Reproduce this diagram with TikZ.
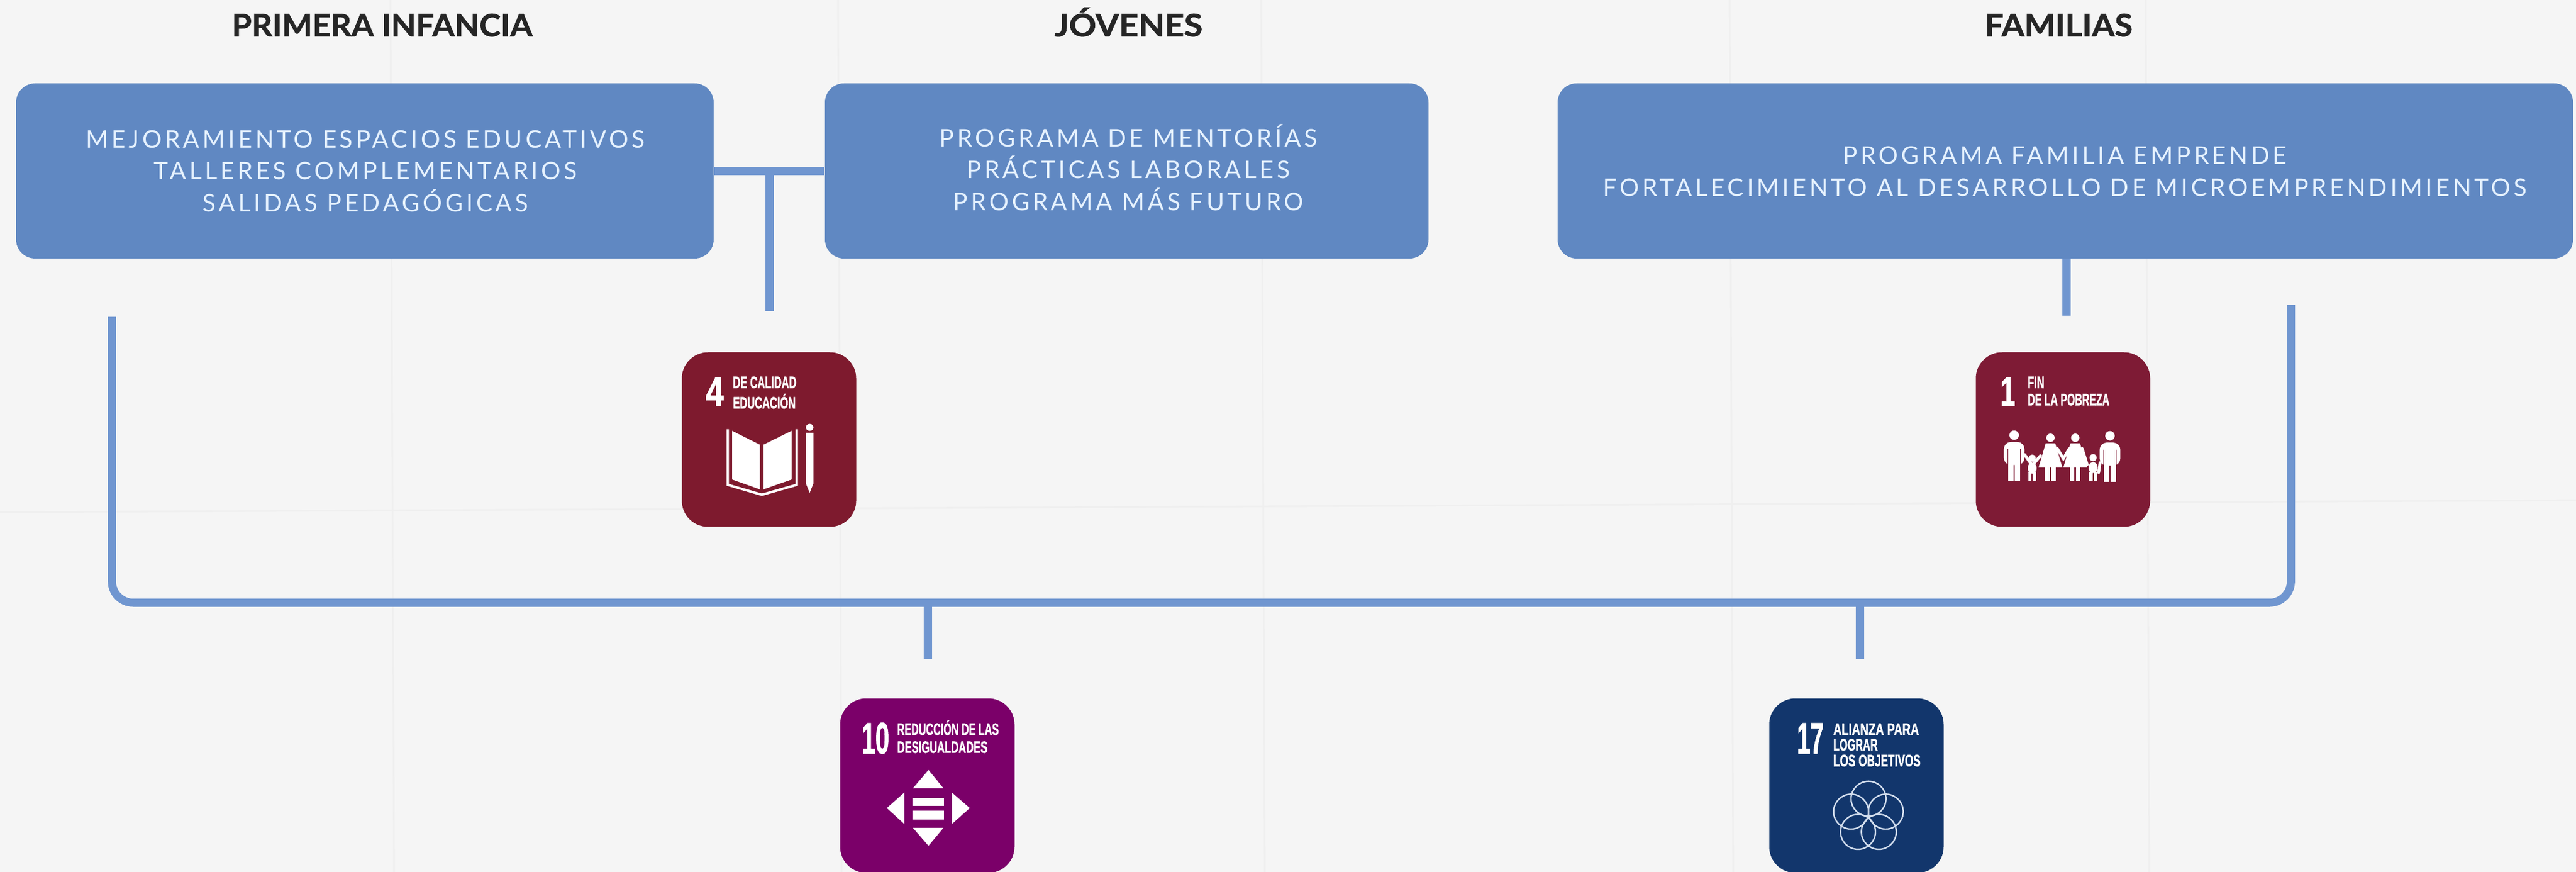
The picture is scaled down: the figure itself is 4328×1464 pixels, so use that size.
\documentclass[tikz,border=0pt]{standalone}
\usepackage{fontspec}
\usepackage{graphicx}
\setmainfont{Lato}
\newfontfamily\bodyfont[LetterSpace=12.8]{Lato}
\newfontfamily\headfont[BoldFeatures={FakeBold=1.2}]{Lato}
\newfontfamily\sdgfont[BoldFeatures={FakeBold=1.5}]{Liberation Sans}
\definecolor{paper}{HTML}{F5F5F5}
\definecolor{crease}{HTML}{EFEFEF}
\definecolor{boxblue}{HTML}{6088C2}
\definecolor{linkblue}{HTML}{7096D0}
\definecolor{headink}{HTML}{262626}
\definecolor{bodyink}{HTML}{E6F2FF}
\definecolor{sdgfour}{HTML}{7E1A2E}
\definecolor{sdgone}{HTML}{7E1B35}
\definecolor{sdgten}{HTML}{7B0069}
\definecolor{sdgseventeen}{HTML}{12366C}
\definecolor{ringink}{HTML}{D3DEEE}
\newlength\zu \setlength\zu{0.083333pt}
\newlength\pxu \setlength\pxu{0.25pt}
% name, x, baseline y, width (crop px), font size (pt), text
\newcommand\sdgtext[6]{\node[sdglabel] (#1) at (#2,#3) {\resizebox{#4\zu}{\height}{\fontsize{#5}{#5}\selectfont\bfseries #6}};}
% name, centre x, width (px), text
\newcommand\headtext[4]{\node[headlabel] (#1) at (#2,61) {\resizebox{#3\pxu}{\height}{\headfont\fontsize{13}{13}\selectfont\bfseries #4}};}
\newcommand\manfig[2]{%
  \fill[white] (#1,#2) circle (24);
  \fill[white,rounded corners=3pt] (#1-52,#2+34) rectangle (#1+52,#2+150);
  \fill[white] (#1-30,#2+140) rectangle (#1-3,#2+232);
  \fill[white] (#1+3,#2+140) rectangle (#1+30,#2+232);
  \fill[sdgone] (#1-33,#2+70) rectangle (#1-29,#2+150);
  \fill[sdgone] (#1+29,#2+70) rectangle (#1+33,#2+150);}
\newcommand\womanfig[2]{%
  \fill[white] (#1,#2) circle (21);
  \fill[white] (#1-24,#2+28) -- (#1+24,#2+28) -- (#1+60,#2+150) -- (#1-60,#2+150) -- cycle;
  \fill[white] (#1-26,#2+145) rectangle (#1-4,#2+220);
  \fill[white] (#1+4,#2+145) rectangle (#1+26,#2+220);}
\newcommand\childfig[2]{%
  \fill[white] (#1,#2) circle (18);
  \fill[white,rounded corners=2pt] (#1-22,#2+22) rectangle (#1+22,#2+78);
  \fill[white] (#1-20,#2+70) rectangle (#1-3,#2+117);
  \fill[white] (#1+3,#2+70) rectangle (#1+20,#2+117);}
\tikzset{
  bluebox/.style={rectangle,rounded corners=8pt,fill=boxblue,draw=none,minimum height=294\pxu},
  sdgicon/.style={rectangle,rounded corners=11pt,draw=none,minimum width=293\pxu,minimum height=293\pxu},
  headlabel/.style={anchor=base,inner sep=0pt,text=headink},
  bodylabel/.style={align=center,inner sep=0pt,text=bodyink,font=\bodyfont\fontsize{10.2}{13.4}\selectfont},
  sdglabel/.style={anchor=base west,inner sep=0pt,text=white,font=\sdgfont},
  linkline/.style={draw=linkblue,line width=3.4pt},
  paperline/.style={draw=crease,line width=0.7pt}
}
\begin{document}
\begin{tikzpicture}[x=0.25pt,y=-0.25pt]
\useasboundingbox (0,0) rectangle (4328,1464);
\clip (0,0) rectangle (4328,1464);
\fill[paper] (0,0) rectangle (4328,1464);
% paper creases
\foreach \cx in {656,1408,2119,2906,3605} \draw[paperline] (\cx,0) -- (\cx+6,1464);
\draw[paperline] (0,860) -- (4328,840);
% headings
\headtext{h1}{642}{505}{PRIMERA INFANCIA}
\headtext{h2}{1896}{249}{JÓVENES}
\headtext{h3}{3459}{248}{FAMILIAS}
% boxes
\node[bluebox,minimum width=1172\pxu] (b1) at (613,287) {};
\node[bluebox,minimum width=1014\pxu] (b2) at (1893,287) {};
\node[bluebox,minimum width=1706\pxu] (b3) at (3470,287) {};
\node[bodylabel] (t1) at (614,287) {MEJORAMIENTO ESPACIOS EDUCATIVOS\\TALLERES COMPLEMENTARIOS\\SALIDAS PEDAGÓGICAS};
\node[bodylabel] (t2) at (1896,281) {PROGRAMA DE MENTORÍAS\\PRÁCTICAS LABORALES\\PROGRAMA MÁS FUTURO};
\node[bodylabel] (t3) at (3469,288) {PROGRAMA FAMILIA EMPRENDE\\FORTALECIMIENTO AL DESARROLLO DE MICROEMPRENDIMIENTOS};
% icons
\node[sdgicon,fill=sdgfour] (i4) at (1292,738) {};
\node[sdgicon,fill=sdgone] (i1) at (3466,738) {};
\node[sdgicon,fill=sdgten] (i10) at (1558,1319) {};
\node[sdgicon,fill=sdgseventeen] (i17) at (3119,1319) {};
% connectors
\coordinate (j4) at (1293,287);
\coordinate (e4) at (1293,522);
\coordinate (s1) at (3472,434);
\coordinate (e1) at (3472,530);
\coordinate (lt) at (188,532);
\coordinate (lc) at (188,1012);
\coordinate (rc) at (3849,1012);
\coordinate (rt) at (3849,512);
\coordinate (s10) at (1559,1012);
\coordinate (e10) at (1559,1106);
\coordinate (s17) at (3125,1012);
\coordinate (e17) at (3125,1106);
\draw[linkline] (b1) -- (b2);
\draw[linkline] (j4) -- (e4);
\draw[linkline] (s1) -- (e1);
\draw[linkline,rounded corners=9pt] (lt) -- (lc) -- (rc) -- (rt);
\draw[linkline] (s10) -- (e10);
\draw[linkline] (s17) -- (e17);
% SDG 4
\begin{scope}[shift={(1100,560)},x=0.083333pt,y=-0.083333pt]
\sdgtext{n4}{255}{365}{90}{17.5}{4}
\sdgtext{a4}{392}{275}{320}{7}{DE CALIDAD}
\sdgtext{b4}{392}{378}{316}{7}{EDUCACIÓN}
\fill[white] (390,490) -- (530,560) -- (530,785) -- (390,735) -- cycle;
\fill[white] (548,560) -- (690,490) -- (690,735) -- (548,785) -- cycle;
\draw[white,line width=1pt] (368,482) -- (368,762) -- (540,812) -- (716,762) -- (716,482);
\fill[white,rounded corners=1.5pt] (762,455) rectangle (800,490);
\fill[white] (762,500) -- (800,500) -- (800,755) -- (781,802) -- (762,755) -- cycle;
\end{scope}
% SDG 1
\begin{scope}[shift={(3280,560)},x=0.083333pt,y=-0.083333pt]
\sdgtext{n1}{240}{365}{75}{17.5}{1}
\sdgtext{a1}{378}{275}{84}{7}{FIN}
\sdgtext{b1l}{378}{362}{412}{7}{DE LA POBREZA}
\manfig{312}{512}
\manfig{795}{515}
\womanfig{495}{525}
\womanfig{620}{525}
\childfig{403}{628}
\childfig{710}{625}
\draw[white,line width=1.2pt,line cap=round] (365,610) -- (403,665) -- (445,615);
\draw[white,line width=1.2pt,line cap=round] (530,580) -- (560,630) -- (590,580);
\draw[white,line width=1.2pt,line cap=round] (655,580) -- (680,660);
\draw[white,line width=1.2pt,line cap=round] (745,650) -- (738,700);
\end{scope}
% SDG 10
\begin{scope}[shift={(1380,1140)},x=0.083333pt,y=-0.083333pt]
\sdgtext{n10}{200}{375}{140}{18.5}{10}
\sdgtext{a10}{380}{282}{512}{7}{REDUCCIÓN DE LAS}
\sdgtext{b10}{380}{372}{455}{7}{DESIGUALDADES}
\fill[white] (540,458) -- (615,550) -- (462,550) -- cycle;
\fill[white] (462,750) -- (615,750) -- (540,840) -- cycle;
\fill[white] (418,572) -- (418,730) -- (330,650) -- cycle;
\fill[white] (658,572) -- (748,650) -- (658,730) -- cycle;
\fill[white] (460,600) rectangle (618,640);
\fill[white] (460,662) rectangle (618,708);
\end{scope}
% SDG 17
\begin{scope}[shift={(2930,1140)},x=0.083333pt,y=-0.083333pt]
\sdgtext{n17}{265}{375}{135}{18.5}{17}
\sdgtext{a17}{448}{282}{432}{7}{ALIANZA PARA}
\sdgtext{b17}{448}{360}{224}{7}{LOGRAR}
\sdgtext{c17}{448}{440}{440}{7}{LOS OBJETIVOS}
\foreach \rx/\ry in {628/603,540/668,715/668,575/770,680/770}
  \draw[ringink,line width=0.6pt] (\rx,\ry) circle (88);
\end{scope}
\end{tikzpicture}
\end{document}
